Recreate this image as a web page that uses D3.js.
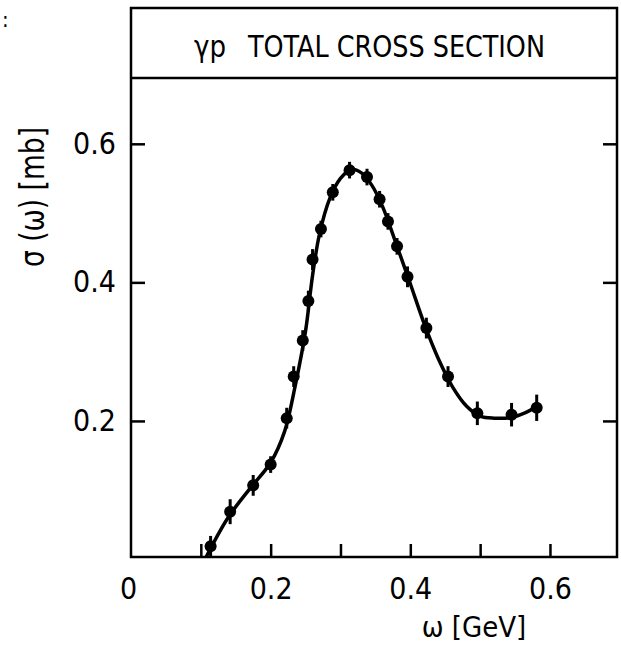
<!DOCTYPE html>
<html>
<head>
<meta charset="utf-8">
<script src="https://cdn.jsdelivr.net/npm/d3@7"></script>
<style>
  body { margin: 0; background: #fff; }
  text { font-family: "DejaVu Sans Condensed", "DejaVu Sans", sans-serif; fill: #000; }
</style>
</head>
<body>
<svg id="chart"></svg>
<script>
// photon energy w [GeV] and cross section sigma [mb]
let omega = [0.114, 0.142, 0.175, 0.200, 0.223, 0.233, 0.246, 0.254, 0.260, 0.272, 0.289,
             0.313, 0.338, 0.356, 0.368, 0.381, 0.396, 0.423, 0.454, 0.496, 0.545, 0.581];
let sigma = [0.019, 0.069, 0.107, 0.137, 0.204, 0.264, 0.316, 0.373, 0.433, 0.477, 0.530,
             0.562, 0.552, 0.520, 0.488, 0.452, 0.408, 0.334, 0.264, 0.211, 0.209, 0.219];
let err   = [0.015, 0.018, 0.015, 0.012, 0.015, 0.015, 0.015, 0.015, 0.015, 0.012, 0.012,
             0.012, 0.012, 0.012, 0.012, 0.012, 0.015, 0.015, 0.015, 0.017, 0.017, 0.019];

// the smooth curve drawn through the data
let fitW = [0.103, 0.115, 0.140, 0.170, 0.200, 0.220, 0.235, 0.250, 0.260, 0.270, 0.285,
            0.300, 0.315, 0.330, 0.345, 0.360, 0.380, 0.400, 0.420, 0.440, 0.460, 0.480,
            0.500, 0.520, 0.545, 0.565, 0.580];
let fitS = [-0.006, 0.018, 0.062, 0.102, 0.140, 0.185, 0.250, 0.330, 0.410, 0.470, 0.522,
            0.550, 0.563, 0.558, 0.540, 0.510, 0.455, 0.398, 0.340, 0.290, 0.250, 0.222,
            0.207, 0.204, 0.205, 0.212, 0.220];

let xTicks = [0.1, 0.2, 0.3, 0.4, 0.5, 0.6];
let xLabels = [0, 0.2, 0.4, 0.6];
let yTicks = [0.2, 0.4, 0.6];

const W = 621, H = 648;
const mLeft = 131, mRight = 617, mTop = 78, mBottom = 557, boxTop = 8;

let svg = d3.select("#chart").attr("width", W).attr("height", H);

let x = d3.scaleLinear().domain([0, 0.696]).range([mLeft, mRight]);
let y = d3.scaleLinear().domain([0.0036, 0.695]).range([mBottom, mTop]);

svg.append("defs").append("clipPath").attr("id", "clip")
  .append("rect").attr("x", mLeft).attr("y", mTop).attr("width", mRight - mLeft).attr("height", mBottom - mTop);

// frame + title box
svg.append("rect")
  .attr("x", mLeft).attr("y", boxTop).attr("width", mRight - mLeft).attr("height", mBottom - boxTop)
  .attr("fill", "none").attr("stroke", "#000").attr("stroke-width", 2.5);
svg.append("line")
  .attr("x1", mLeft).attr("x2", mRight).attr("y1", mTop).attr("y2", mTop)
  .attr("stroke", "#000").attr("stroke-width", 2.5);

svg.append("text").attr("x", 194).attr("y", 57).attr("font-size", 31)
  .attr("textLength", 32).attr("lengthAdjust", "spacingAndGlyphs").text("γp");
svg.append("text").attr("x", 248).attr("y", 57).attr("font-size", 31)
  .attr("textLength", 297).attr("lengthAdjust", "spacingAndGlyphs").text("TOTAL CROSS SECTION");

// stray colon at top left of the scan
svg.append("text").attr("x", 2).attr("y", 27).attr("font-size", 22).text(":");

// axes, ticks pointing inward
let gl = svg.append("g").attr("transform", `translate(${mLeft},0)`)
  .call(d3.axisLeft(y).tickValues(yTicks).tickSize(-14).tickPadding(15).tickFormat(d3.format(".1f")));
let gr = svg.append("g").attr("transform", `translate(${mRight},0)`)
  .call(d3.axisRight(y).tickValues(yTicks).tickSize(-14).tickFormat(""));
let gb = svg.append("g").attr("transform", `translate(0,${mBottom})`)
  .call(d3.axisBottom(x).tickValues(xTicks).tickSize(-13).tickFormat(""));
let gbl = svg.append("g").attr("transform", `translate(0,${mBottom})`)
  .call(d3.axisBottom(x).tickValues(xLabels).tickSize(0).tickPadding(21)
    .tickFormat(d => d === 0 ? "0" : d3.format(".1f")(d)));

[gl, gr, gb, gbl].forEach(g => {
  g.select(".domain").remove();
  g.selectAll("line").attr("stroke", "#000").attr("stroke-width", 2.5);
  g.selectAll("text").attr("font-size", 30);
  g.attr("font-family", null).attr("font-size", null);
});
gbl.selectAll("text").filter(d => d === 0).attr("dx", -3);

// axis titles
svg.append("text").attr("x", 474).attr("y", 637).attr("text-anchor", "middle")
  .attr("font-size", 29).text("ω [GeV]");
svg.append("text").attr("transform", "translate(44,197) rotate(-90)")
  .attr("text-anchor", "middle").attr("font-size", 33)
  .attr("textLength", 140).attr("lengthAdjust", "spacingAndGlyphs").text("σ (ω) [mb]");

// curve
let line = d3.line().x(d => x(d[0])).y(d => y(d[1])).curve(d3.curveCatmullRom);
svg.append("path")
  .datum(d3.zip(fitW, fitS))
  .attr("clip-path", "url(#clip)")
  .attr("d", line)
  .attr("fill", "none").attr("stroke", "#000").attr("stroke-width", 3.5);

// data points with error bars
let pts = d3.zip(omega, sigma, err);
let gp = svg.append("g").attr("clip-path", "url(#clip)");
gp.selectAll("line.err").data(pts).enter().append("line")
  .attr("class", "err")
  .attr("x1", d => x(d[0])).attr("x2", d => x(d[0]))
  .attr("y1", d => y(d[1] - d[2])).attr("y2", d => y(d[1] + d[2]))
  .attr("stroke", "#000").attr("stroke-width", 3);
gp.selectAll("circle").data(pts).enter().append("circle")
  .attr("cx", d => x(d[0])).attr("cy", d => y(d[1]))
  .attr("r", 6).attr("fill", "#000");
</script>
</body>
</html>
